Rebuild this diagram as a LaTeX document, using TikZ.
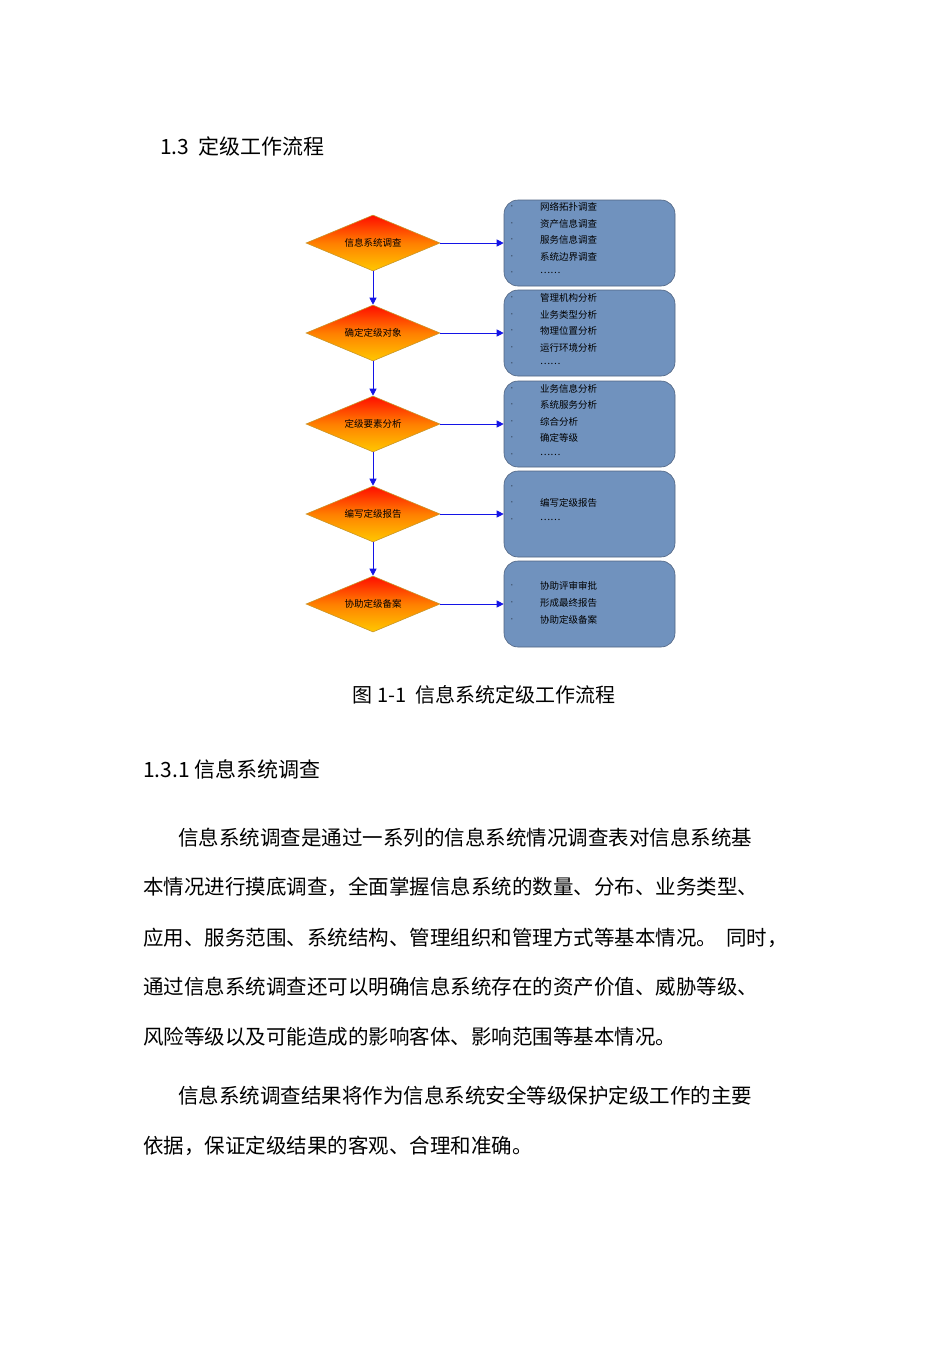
\documentclass[tikz,border=0pt]{standalone}
\usepackage{fontspec}
\setmainfont{Liberation Sans}
\newfontfamily\cjk{Noto Sans CJK SC}[Scale=1]
\usetikzlibrary{shapes.geometric,arrows.meta}
\tikzset{
 dia/.style={diamond,draw={rgb,255:red,200;green,150;blue,40},line width=0.6pt,minimum width=134pt,minimum height=56pt,aspect=2.4,inner sep=0pt,
  top color=red!90!orange, bottom color={rgb,255:red,255;green,200;blue,0}, middle color=orange,
  font=\cjk\fontsize{9.5}{10}\selectfont},
 bx/.style={draw={rgb,255:red,80;green,100;blue,130},fill={rgb,255:red,112;green,146;blue,190},rounded corners=14pt,line width=0.6pt,minimum width=171pt,minimum height=86pt,inner sep=0pt},
 conn/.style={draw={rgb,255:red,20;green,20;blue,230},line width=0.8pt,-{Triangle[length=7pt,width=7pt]}},
 itm/.style={anchor=west,font=\cjk\fontsize{9.5}{10}\selectfont,inner sep=0pt},
 dot/.style={anchor=center,font=\fontsize{8}{8}\selectfont,inner sep=0pt},
 body/.style={anchor=west,inner sep=0pt,font=\cjk\fontsize{20.5}{22}\selectfont},
 head/.style={anchor=west,inner sep=0pt,font=\cjk\fontsize{21}{22}\selectfont}
}
\begin{document}
\begin{tikzpicture}[x=1pt,y=-1pt]
\useasboundingbox (0,0) rectangle (950,1345);
\node[head] (h1) at (160,146) {1.3\ \ 定级工作流程};
\foreach \i/\y/\t in {1/243/信息系统调查,2/333/确定定级对象,3/424/定级要素分析,4/514/编写定级报告,5/604/协助定级备案}{
  \node[dia] (d\i) at (373,\y) {\t};
  \node[bx] (b\i) at (589.5,\y) {};
  \draw[conn] (d\i.east) -- (b\i.west);
}
\foreach \a/\b in {1/2,2/3,3/4,4/5}{\draw[conn] (d\a.south) -- (d\b.north);}
% box items
\foreach \y/\t in {207/网络拓扑调查,224/资产信息调查,240/服务信息调查,257/系统边界调查,273/……,
 298/管理机构分析,315/业务类型分析,331/物理位置分析,348/运行环境分析,364/……,
 389/业务信息分析,405/系统服务分析,422/综合分析,438/确定等级,455/……,
 503/编写定级报告,520/……,
 586/协助评审审批,603/形成最终报告,620/协助定级备案}{
 \node[dot] at (512,\y) {·};
 \node[itm] at (540,\y) {\t};
}
\node[dot] at (512,487) {·};
\node[anchor=center,inner sep=0pt,font=\cjk\fontsize{20}{22}\selectfont] (cap) at (484,695) {图 1-1\ \ 信息系统定级工作流程};
\node[head] (h2) at (143,769) {1.3.1 信息系统调查};
\node[body] (p1) at (178,838) {信息系统调查是通过一系列的信息系统情况调查表对信息系统基};
\node[body] (p2) at (143,887) {本情况进行摸底调查，全面掌握信息系统的数量、分布、业务类型、};
\node[body] (p3) at (143,938) {应用、服务范围、系统结构、管理组织和管理方式等基本情况。\ \ 同时，};
\node[body] (p4) at (143,987) {通过信息系统调查还可以明确信息系统存在的资产价值、威胁等级、};
\node[body] (p5) at (143,1037) {风险等级以及可能造成的影响客体、影响范围等基本情况。};
\node[body] (p6) at (178,1096) {信息系统调查结果将作为信息系统安全等级保护定级工作的主要};
\node[body] (p7) at (143,1146) {依据，保证定级结果的客观、合理和准确。};
\end{tikzpicture}
\end{document}
